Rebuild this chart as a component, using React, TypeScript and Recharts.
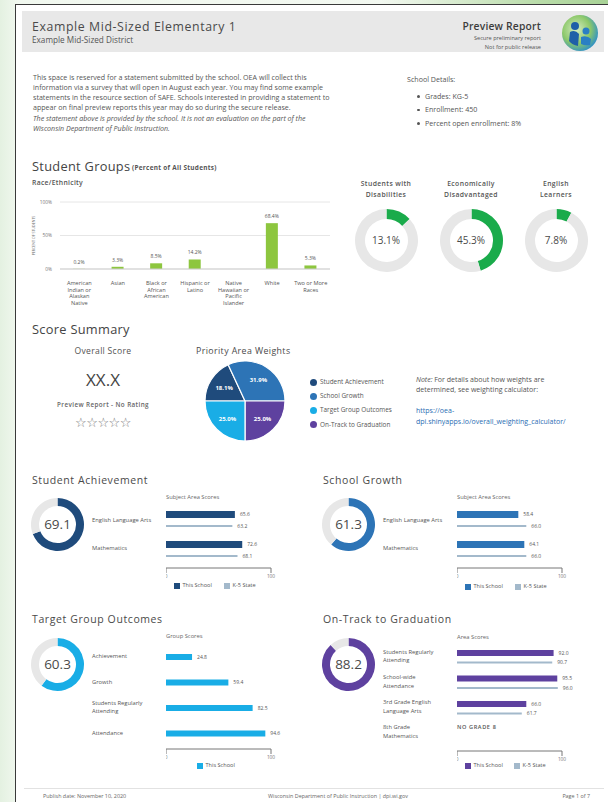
import React from 'react';
import { BarChart, Bar, XAxis, YAxis, CartesianGrid, LabelList, PieChart, Pie, Cell } from 'recharts';

// ---------------- DATA ----------------
const raceCategories = ['American Indian or Alaskan Native', 'Asian', 'Black or African American', 'Hispanic or Latino', 'Native Hawaiian or Pacific Islander', 'White', 'Two or More Races'];
const raceLabelLines = [['American', 'Indian or', 'Alaskan', 'Native'], ['Asian'], ['Black or', 'African', 'American'], ['Hispanic or', 'Latino'], ['Native', 'Hawaiian or', 'Pacific', 'Islander'], ['White'], ['Two or More', 'Races']];
const racePercents = [0.2, 3.3, 8.5, 14.2, 0, 68.4, 5.3];
const raceTicks = [0, 50, 100];

const groupTitleLines = [['Students with', 'Disabilities'], ['Economically', 'Disadvantaged'], ['English', 'Learners']];
const groupPercents = [13.1, 45.3, 7.8];

const priorityAreas = ['Student Achievement', 'School Growth', 'Target Group Outcomes', 'On-Track to Graduation'];
const priorityWeights = [18.1, 31.9, 25.0, 25.0];
const pieOrder = [0, 1, 3, 2];

const subjects = ['English Language Arts', 'Mathematics'];
const achievementScore = 69.1;
const achievementSchool = [65.6, 72.6];
const achievementState = [63.2, 68.1];

const growthScore = 61.3;
const growthSchool = [58.4, 64.1];
const growthState = [66.0, 66.0];

const targetScore = 60.3;
const targetGroups = ['Achievement', 'Growth', 'Students Regularly Attending', 'Attendance'];
const targetLabelLines = [['Achievement'], ['Growth'], ['Students Regularly', 'Attending'], ['Attendance']];
const targetSchool = [24.8, 59.4, 82.5, 94.6];

const onTrackScore = 88.2;
const onTrackAreas = ['Students Regularly Attending', 'School-wide Attendance', '3rd Grade English Language Arts', '8th Grade Mathematics'];
const onTrackLabelLines = [['Students Regularly', 'Attending'], ['School-wide', 'Attendance'], ['3rd Grade English', 'Language Arts'], ['8th Grade', 'Mathematics']];
const onTrackSchool: (number | null)[] = [92.0, 95.5, 66.0, null];
const onTrackState: (number | null)[] = [90.7, 96.0, 61.7, null];

const scoreTicks = [0, 100];

// ---------------- STYLE ----------------
const BODY = '"Open Sans", sans-serif';
const C_ACH = '#1f4b7c';
const C_GRO = '#2d74b6';
const C_TGT = '#19ade6';
const C_OTG = '#5e419f';
const C_STATE = '#a3b9cb';
const C_GREEN = '#1aab4b';
const C_BAR = '#8dc63f';
const C_RING = '#e7e7e7';
const priorityColors = [C_ACH, C_GRO, C_TGT, C_OTG];

type TP = { x: number; y: number; s: number; c?: string; w?: number; a?: 'l' | 'c' | 'r'; it?: boolean; ls?: number; f?: string; children: React.ReactNode };
const T = ({ x, y, s, c = '#555', w = 400, a = 'l', it = false, ls = 0, f = BODY, children }: TP) => (
  <div
    style={{
      position: 'absolute', left: x, top: y - s * 0.68, fontSize: s, lineHeight: `${s * 1.36}px`, color: c,
      fontWeight: w, fontStyle: it ? 'italic' : 'normal', letterSpacing: ls, fontFamily: f, whiteSpace: 'nowrap',
      transform: a === 'c' ? 'translateX(-50%)' : a === 'r' ? 'translateX(-100%)' : undefined,
    }}
  >
    {children}
  </div>
);

const Donut = ({ cx, cy, outer, inner, value, color, label, fs }: { cx: number; cy: number; outer: number; inner: number; value: number; color: string; label: string; fs: number }) => {
  const size = outer * 2 + 4;
  return (
    <div style={{ position: 'absolute', left: cx - size / 2, top: cy - size / 2, width: size, height: size }}>
      <PieChart width={size} height={size} margin={{ top: 0, right: 0, bottom: 0, left: 0 }}>
        <Pie data={[{ v: value }, { v: 100 - value }]} dataKey="v" cx="50%" cy="50%" innerRadius={inner} outerRadius={outer}
          startAngle={90} endAngle={-270} stroke="none" isAnimationActive={false}>
          <Cell fill={color} />
          <Cell fill={C_RING} />
        </Pie>
      </PieChart>
      <div style={{ position: 'absolute', left: 0, top: 0, width: size, height: size, display: 'flex', alignItems: 'center', justifyContent: 'center', fontSize: fs, color: '#4a4a4a', fontFamily: BODY, fontWeight: 500 }}>
        {label}
      </div>
    </div>
  );
};

const RaceTick = (props: any) => {
  const { x, y, payload } = props;
  const idx = raceCategories.indexOf(payload.value);
  const lines = raceLabelLines[idx] || [payload.value];
  return (
    <g transform={`translate(${x},${y})`}>
      <text textAnchor="middle" fontSize={5.6} fill="#555" fontFamily={BODY}>
        {lines.map((l, i) => (
          <tspan key={i} x={0} y={8 + i * 6.6}>{l}</tspan>
        ))}
      </text>
    </g>
  );
};

type HBarProps = {
  left: number; top: number; plotH: number; padBottom: number; names: string[];
  school: (number | null)[]; state?: (number | null)[]; color: string; schoolSize: number; stateSize: number; gap: number;
};
const HBar = ({ left, top, plotH, padBottom, names, school, state, color, schoolSize, stateSize, gap }: HBarProps) => {
  const data = names.map((n, i) => ({ name: n, school: school[i], state: state ? state[i] : null }));
  const fmt = (v: any) => (v == null ? '' : Number(v).toFixed(1));
  return (
    <div style={{ position: 'absolute', left, top }}>
      <BarChart width={130} height={plotH + 16} data={data} layout="vertical" margin={{ top: 0, right: 25, bottom: 0, left: 0 }}
        barGap={gap} barCategoryGap={0}>
        <XAxis type="number" domain={[0, 100]} ticks={scoreTicks} height={16} tickSize={5} stroke="#777"
          tick={{ fontSize: 4.8, fill: '#777', fontFamily: BODY }} tickMargin={2} interval={0} />
        <YAxis type="category" dataKey="name" hide padding={{ top: 0, bottom: padBottom }} />
        <Bar dataKey="school" fill={color} barSize={schoolSize} isAnimationActive={false}>
          <LabelList dataKey="school" position="right" offset={5} formatter={fmt} style={{ fontSize: 5, fill: '#555', fontFamily: BODY }} />
        </Bar>
        {state && (
          <Bar dataKey="state" fill={C_STATE} barSize={stateSize} isAnimationActive={false}>
            <LabelList dataKey="state" position="right" offset={5} formatter={fmt} style={{ fontSize: 5, fill: '#555', fontFamily: BODY }} />
          </Bar>
        )}
      </BarChart>
    </div>
  );
};

const LegendItem = ({ x, y, color, label }: { x: number; y: number; color: string; label: string }) => (
  <>
    <div style={{ position: 'absolute', left: x, top: y - 3, width: 6, height: 6, background: color }} />
    <T x={x + 8.5} y={y} s={5.6} c="#555">{label}</T>
  </>
);

const RADIAN = Math.PI / 180;
const pieLabel = (p: any) => {
  const r = p.outerRadius * 0.62;
  const x = p.cx + r * Math.cos(-p.midAngle * RADIAN);
  const y = p.cy + r * Math.sin(-p.midAngle * RADIAN);
  return (
    <text x={x} y={y} fill="#fff" fontSize={6} fontWeight={700} fontFamily={BODY} textAnchor="middle" dominantBaseline="central">
      {`${Number(p.value).toFixed(1)}%`}
    </text>
  );
};

const HEAD = { s: 10.5, c: '#4a4a4a', w: 500, ls: 0.6 };

export default function App() {
  const raceData = raceCategories.map((c, i) => ({ name: c, pct: racePercents[i] }));
  const pieData = pieOrder.map((i) => ({ name: priorityAreas[i], value: priorityWeights[i], color: priorityColors[i] }));

  return (
    <div style={{ position: 'absolute', left: 0, top: 0, width: 608, height: 802, overflow: 'hidden', fontFamily: BODY,
      background: 'linear-gradient(90deg, #e4f1e1 0%, #f1f8ef 3%, #f4f9f2 100%)' }}>
      {/* top-right green glow */}
      <div style={{ position: 'absolute', left: 380, top: 0, width: 228, height: 10, background: 'linear-gradient(90deg, rgba(190,225,175,0) 0%, #b9dca9 70%, #a8d296 100%)' }} />
      {/* page */}
      <div style={{ position: 'absolute', left: 15, top: 4, width: 610, height: 810, background: '#fff', borderLeft: '1.5px solid #3a3a3a', borderTop: '1.5px solid #3a3a3a' }} />

      {/* header */}
      <div style={{ position: 'absolute', left: 22, top: 11, width: 582, height: 41, background: '#e8e8e8' }} />
      <T x={32} y={27} s={12.3} c="#4a4a4a" w={500} ls={0.6}>Example Mid-Sized Elementary 1</T>
      <T x={32} y={40} s={8.2} c="#555">Example Mid-Sized District</T>
      <T x={541} y={26} s={10.3} c="#3c3c3c" w={600} a="r" ls={0.2}>Preview Report</T>
      <T x={541} y={39} s={5.6} c="#555" a="r">Secure preliminary report</T>
      <T x={541} y={48} s={5.6} c="#555" a="r">Not for public release</T>
      <svg style={{ position: 'absolute', left: 561, top: 14 }} width={38} height={38}>
        <defs>
          <radialGradient id="lg" cx="40%" cy="40%" r="65%">
            <stop offset="0%" stopColor="#d6ecc2" />
            <stop offset="60%" stopColor="#8cc86a" />
            <stop offset="100%" stopColor="#2c8fc9" />
          </radialGradient>
        </defs>
        <circle cx={19} cy={19} r={18} fill="url(#lg)" />
        <circle cx={14} cy={12} r={4} fill="#1f5fa8" />
        <path d="M9 18 Q14 15 18 20 L17 32 Q11 31 8 27 Z" fill="#1f5fa8" />
        <circle cx={25} cy={17} r={3.5} fill="#2a7fc4" />
        <path d="M20 23 Q26 21 30 25 L29 31 Q24 32 20 30 Z" fill="#2a7fc4" />
      </svg>

      {/* intro statement */}
      <T x={33} y={78} s={7.1} c="#555">This space is reserved for a statement submitted by the school. OEA will collect this</T>
      <T x={33} y={88} s={7.1} c="#555">information via a survey that will open in August each year. You may find some example</T>
      <T x={33} y={98} s={7.1} c="#555">statements in the resource section of SAFE. Schools interested in providing a statement to</T>
      <T x={33} y={108} s={7.1} c="#555">appear on final preview reports this year may do so during the secure release.</T>
      <T x={33} y={119} s={7.1} c="#555" it>The statement above is provided by the school. It is not an evaluation on the part of the</T>
      <T x={33} y={129} s={7.1} c="#555" it>Wisconsin Department of Public Instruction.</T>

      <T x={407} y={80} s={7.1} c="#555">School Details:</T>
      {['Grades:  KG-5', 'Enrollment:  450', 'Percent open enrollment:  8%'].map((t, i) => (
        <React.Fragment key={t}>
          <div style={{ position: 'absolute', left: 417, top: 95 + i * 13.5, width: 2.6, height: 2.6, borderRadius: 2, background: '#555' }} />
          <T x={425} y={96.5 + i * 13.5} s={7.1} c="#555">{t}</T>
        </React.Fragment>
      ))}

      {/* Student Groups */}
      <T x={32} y={167} s={12.8} c="#444" w={500} ls={0.3}>Student Groups</T>
      <T x={132} y={168} s={6.4} c="#555" w={700} ls={0.3}>(Percent of All Students)</T>
      <T x={32} y={183} s={6.8} c="#555" w={600} ls={0.3}>Race/Ethnicity</T>

      <div style={{ position: 'absolute', left: 28, top: 195 }}>
        <BarChart width={306} height={118} data={raceData} margin={{ top: 7, right: 4, bottom: 0, left: 0 }}>
          <CartesianGrid vertical={false} stroke="#e6e6e6" />
          <XAxis dataKey="name" height={44} tick={<RaceTick />} tickLine={false} axisLine={{ stroke: '#cfcfcf' }} interval={0} />
          <YAxis domain={[0, 100]} ticks={raceTicks} width={32} axisLine={false} tickLine={false}
            tickFormatter={(v: number) => `${v}%`} tick={{ fontSize: 4.8, fill: '#777', fontFamily: BODY }}
            label={{ value: 'PERCENT OF STUDENTS', angle: -90, position: 'insideLeft', offset: 6, style: { fontSize: 3.6, fill: '#777', fontFamily: BODY, textAnchor: 'middle' } }} />
          <Bar dataKey="pct" fill={C_BAR} barSize={12} isAnimationActive={false}>
            <LabelList dataKey="pct" position="top" offset={5} formatter={(v: any) => `${v}%`} style={{ fontSize: 5, fill: '#555', fontFamily: BODY }} />
          </Bar>
        </BarChart>
      </div>

      {/* group donuts */}
      {groupPercents.map((p, i) => {
        const cx = 386 + i * 85;
        return (
          <React.Fragment key={i}>
            <T x={cx} y={184} s={6.8} c="#555" w={600} a="c" ls={0.4}>{groupTitleLines[i][0]}</T>
            <T x={cx} y={195} s={6.8} c="#555" w={600} a="c" ls={0.4}>{groupTitleLines[i][1]}</T>
            <Donut cx={cx} cy={240} outer={31.5} inner={21.5} value={p} color={C_GREEN} label={`${p.toFixed(1)}%`} fs={10} />
          </React.Fragment>
        );
      })}

      {/* Score Summary */}
      <T x={32} y={330} s={12.8} c="#444" w={500} ls={0.3}>Score Summary</T>
      <T x={103} y={352} s={8.6} c="#555" w={500} a="c" ls={0.3}>Overall Score</T>
      <T x={103} y={380} s={17} c="#444" w={400} a="c">XX.X</T>
      <T x={103} y={405} s={6.3} c="#666" w={600} a="c" ls={0.4}>Preview Report - No Rating</T>
      <T x={103} y={423} s={13} c="#777" a="c" f='"DejaVu Sans", sans-serif' ls={-0.5}>☆☆☆☆☆</T>

      <T x={196} y={352} s={8.8} c="#4a4a4a" w={500} ls={0.4}>Priority Area Weights</T>
      <div style={{ position: 'absolute', left: 245 - 45, top: 401 - 45 }}>
        <PieChart width={90} height={90} margin={{ top: 0, right: 0, bottom: 0, left: 0 }}>
          <Pie data={pieData} dataKey="value" cx="50%" cy="50%" outerRadius={40} startAngle={180} endAngle={-180}
            stroke="#fff" strokeWidth={1.2} isAnimationActive={false} label={pieLabel} labelLine={false}>
            {pieData.map((d, i) => <Cell key={i} fill={d.color} />)}
          </Pie>
        </PieChart>
      </div>
      {priorityAreas.map((a, i) => (
        <React.Fragment key={a}>
          <div style={{ position: 'absolute', left: 310, top: 378.5 + i * 14.3, width: 7, height: 7, borderRadius: 4, background: priorityColors[i] }} />
          <T x={320} y={382 + i * 14.3} s={6.4} c="#555">{a}</T>
        </React.Fragment>
      ))}
      <div style={{ position: 'absolute', left: 416, top: 375, fontSize: 7, lineHeight: '10px', color: '#555', fontFamily: BODY, width: 190 }}>
        <i>Note:</i> For details about how weights are<br />determined, see weighting calculator:
      </div>
      <div style={{ position: 'absolute', left: 416, top: 405, fontSize: 7, lineHeight: '11px', color: '#2a6db3', fontFamily: BODY, width: 190 }}>
        https://oea-<br />dpi.shinyapps.io/overall_weighting_calculator/
      </div>

      {/* Student Achievement */}
      <T x={32} y={480} {...HEAD}>Student Achievement</T>
      <Donut cx={57.5} cy={524} outer={26.5} inner={18.5} value={achievementScore} color={C_ACH} label={achievementScore.toFixed(1)} fs={13.5} />
      <T x={166} y={498} s={5.8} c="#666">Subject Area Scores</T>
      <T x={92} y={521} s={5.8} c="#555">{subjects[0]}</T>
      <T x={92} y={549} s={5.8} c="#555">{subjects[1]}</T>
      <HBar left={166} top={504} plotH={64} padBottom={4} names={subjects} school={achievementSchool} state={achievementState}
        color={C_ACH} schoolSize={7} stateSize={2} gap={7} />
      <LegendItem x={174} y={586} color={C_ACH} label="This School" />
      <LegendItem x={224} y={586} color={C_STATE} label="K-5 State" />

      {/* School Growth */}
      <T x={323} y={480} {...HEAD}>School Growth</T>
      <Donut cx={348.5} cy={524} outer={26.5} inner={18.5} value={growthScore} color={C_GRO} label={growthScore.toFixed(1)} fs={13.5} />
      <T x={457} y={498} s={5.8} c="#666">Subject Area Scores</T>
      <T x={383} y={521} s={5.8} c="#555">{subjects[0]}</T>
      <T x={383} y={549} s={5.8} c="#555">{subjects[1]}</T>
      <HBar left={457} top={504} plotH={64} padBottom={4} names={subjects} school={growthSchool} state={growthState}
        color={C_GRO} schoolSize={7} stateSize={2} gap={7} />
      <LegendItem x={465} y={587} color={C_GRO} label="This School" />
      <LegendItem x={515} y={587} color={C_STATE} label="K-5 State" />

      {/* Target Group Outcomes */}
      <T x={32} y={619} {...HEAD}>Target Group Outcomes</T>
      <Donut cx={57.5} cy={664} outer={26.5} inner={18.5} value={targetScore} color={C_TGT} label={targetScore.toFixed(1)} fs={13.5} />
      <T x={166} y={637} s={5.8} c="#666">Group Scores</T>
      {targetLabelLines.map((ls, i) =>
        ls.map((l, j) => (
          <T key={`${i}-${j}`} x={92} y={657 + i * 25.5 + (ls.length > 1 ? (j - 0.5) * 8 : 0)} s={5.8} c="#555">{l}</T>
        ))
      )}
      <HBar left={166} top={644} plotH={105} padBottom={3} names={targetGroups} school={targetSchool}
        color={C_TGT} schoolSize={6} stateSize={2} gap={0} />
      <LegendItem x={197} y={766} color={C_TGT} label="This School" />

      {/* On-Track to Graduation */}
      <T x={323} y={619} {...HEAD}>On-Track to Graduation</T>
      <Donut cx={348.5} cy={664} outer={26.5} inner={18.5} value={onTrackScore} color={C_OTG} label={onTrackScore.toFixed(1)} fs={13.5} />
      <T x={457} y={638} s={5.8} c="#666">Area Scores</T>
      {onTrackLabelLines.map((ls, i) =>
        ls.map((l, j) => (
          <T key={`${i}-${j}`} x={383} y={652.5 + i * 25.3 + j * 8.8} s={5.8} c="#555">{l}</T>
        ))
      )}
      <HBar left={457} top={644} plotH={107} padBottom={5} names={onTrackAreas} school={onTrackSchool} state={onTrackState}
        color={C_OTG} schoolSize={6} stateSize={2} gap={5.5} />
      <T x={457} y={728} s={5.6} c="#555" w={600} ls={0.6}>NO GRADE 8</T>
      <LegendItem x={465} y={766} color={C_OTG} label="This School" />
      <LegendItem x={514} y={766} color={C_STATE} label="K-5 State" />

      {/* footer */}
      <div style={{ position: 'absolute', left: 24, top: 788, width: 580, height: 1, background: '#e2e2e2' }} />
      <T x={43} y={797} s={5.4} c="#666">Publish date: November 10, 2020</T>
      <T x={338} y={797} s={5.4} c="#666" a="c">Wisconsin Department of Public Instruction | dpi.wi.gov</T>
      <T x={590} y={797} s={5.4} c="#666" a="r">Page 1 of 7</T>
    </div>
  );
}
